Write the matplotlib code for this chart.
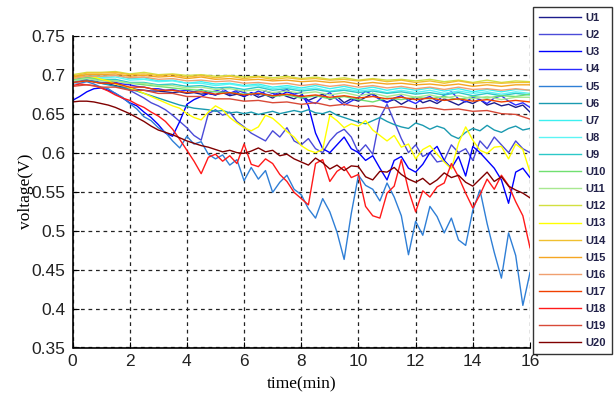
import numpy as np
import matplotlib
matplotlib.use("Agg")
import matplotlib.pyplot as plt

# time grids (minutes)
t_fine = np.arange(65) * 0.25
t_coarse = np.arange(33) * 0.5

labels = [f"U{i}" for i in range(1, 21)]
colors = ['#1c1c8c', '#4b4bd8', '#0000ff', '#2a2aff', '#2f7fd6',
          '#1a9ab0', '#3cf0f0', '#5cf5f5', '#2cc8c8', '#70e070',
          '#a8e890', '#d2e040', '#ffff00', '#f0c030', '#f5a623',
          '#f0a070', '#f04000', '#ff1a1a', '#d84a38', '#800000']

U1 = [0.693, 0.694, 0.693, 0.691, 0.689, 0.688, 0.686, 0.684, 0.683, 0.681, 0.680, 0.679,
      0.679, 0.678, 0.677, 0.678, 0.676, 0.677, 0.675, 0.676, 0.674, 0.677, 0.673, 0.675,
      0.672, 0.676, 0.671, 0.674, 0.670, 0.676, 0.672, 0.669, 0.674, 0.667, 0.671, 0.675,
      0.668, 0.672, 0.664, 0.669, 0.666, 0.671, 0.676, 0.669, 0.665, 0.668, 0.662, 0.667,
      0.671, 0.664, 0.667, 0.663, 0.669, 0.665, 0.661, 0.666, 0.663, 0.668, 0.661, 0.664,
      0.660, 0.662, 0.658, 0.661, 0.652]
U2 = [0.690, 0.692, 0.693, 0.692, 0.690, 0.690, 0.689, 0.685, 0.680, 0.675, 0.670, 0.664,
      0.660, 0.655, 0.648, 0.640, 0.632, 0.622, 0.616, 0.650, 0.655, 0.648, 0.652, 0.640,
      0.633, 0.625, 0.620, 0.615, 0.628, 0.620, 0.632, 0.615, 0.610, 0.618, 0.605, 0.600,
      0.615, 0.625, 0.630, 0.620, 0.600, 0.610, 0.598, 0.645, 0.662, 0.640, 0.618, 0.600,
      0.610, 0.595, 0.600, 0.588, 0.590, 0.610, 0.600, 0.605, 0.590, 0.615, 0.605, 0.620,
      0.610, 0.600, 0.615, 0.605, 0.600]
U3 = [0.667, 0.672, 0.678, 0.682, 0.683, 0.680, 0.676, 0.670, 0.664, 0.660, 0.652, 0.645,
      0.636, 0.625, 0.621, 0.640, 0.662, 0.668, 0.672, 0.676, 0.674, 0.679, 0.675, 0.678,
      0.672, 0.677, 0.674, 0.679, 0.676, 0.673, 0.678, 0.675, 0.677, 0.660, 0.625, 0.605,
      0.600, 0.610, 0.620, 0.605, 0.600, 0.590, 0.596, 0.580, 0.565, 0.590, 0.595, 0.580,
      0.575, 0.585, 0.600, 0.608, 0.590, 0.580, 0.595, 0.570, 0.608, 0.600, 0.590, 0.580,
      0.565, 0.535, 0.575, 0.580, 0.568]
U4 = [0.696, 0.698, 0.697, 0.695, 0.693, 0.692, 0.690, 0.688, 0.687, 0.685, 0.684, 0.682,
      0.682, 0.680, 0.681, 0.679, 0.680, 0.678, 0.681, 0.677, 0.679, 0.682, 0.676, 0.680,
      0.677, 0.674, 0.679, 0.675, 0.673, 0.678, 0.681, 0.674, 0.671, 0.666, 0.663, 0.672,
      0.677, 0.668, 0.661, 0.666, 0.671, 0.679, 0.674, 0.668, 0.664, 0.670, 0.673, 0.667,
      0.663, 0.669, 0.672, 0.666, 0.674, 0.678, 0.669, 0.665, 0.671, 0.668, 0.663, 0.670,
      0.673, 0.666, 0.661, 0.664, 0.658]
U5 = [0.690, 0.689, 0.691, 0.688, 0.684, 0.682, 0.676, 0.671, 0.663, 0.656, 0.646, 0.641,
      0.632, 0.626, 0.615, 0.606, 0.621, 0.611, 0.614, 0.598, 0.592, 0.597, 0.584, 0.591,
      0.564, 0.581, 0.566, 0.577, 0.549, 0.562, 0.571, 0.553, 0.546, 0.528, 0.516, 0.541,
      0.524, 0.498, 0.463, 0.522, 0.571, 0.558, 0.553, 0.538, 0.561, 0.543, 0.519, 0.469,
      0.512, 0.494, 0.531, 0.518, 0.497, 0.516, 0.488, 0.481, 0.526, 0.552, 0.509, 0.472,
      0.439, 0.497, 0.468, 0.404, 0.446]
U6 = [0.692, 0.694, 0.693, 0.691, 0.689, 0.687, 0.685, 0.683, 0.681, 0.679, 0.676, 0.673,
      0.670, 0.667, 0.664, 0.661, 0.659, 0.657, 0.656, 0.655, 0.653, 0.654, 0.651, 0.652,
      0.650, 0.652, 0.649, 0.651, 0.653, 0.650, 0.652, 0.654, 0.652, 0.655, 0.651, 0.650,
      0.653, 0.648, 0.645, 0.642, 0.639, 0.637, 0.641, 0.645, 0.640, 0.636, 0.633, 0.631,
      0.638, 0.635, 0.630, 0.634, 0.631, 0.622, 0.618, 0.626, 0.631, 0.628, 0.635, 0.629,
      0.626, 0.631, 0.634, 0.629, 0.631]
U7 = [0.697, 0.700, 0.698, 0.699, 0.695, 0.696, 0.692, 0.693, 0.689, 0.691, 0.688, 0.689,
      0.686, 0.688, 0.684, 0.686, 0.683, 0.686, 0.682, 0.685, 0.681, 0.684, 0.680, 0.683,
      0.680, 0.683, 0.679, 0.682, 0.678, 0.681, 0.678, 0.681, 0.680]
U8 = [0.695, 0.698, 0.696, 0.697, 0.693, 0.694, 0.691, 0.692, 0.689, 0.689, 0.686, 0.688,
      0.685, 0.686, 0.682, 0.684, 0.681, 0.683, 0.679, 0.682, 0.679, 0.681, 0.677, 0.680,
      0.677, 0.680, 0.676, 0.679, 0.676, 0.678, 0.675, 0.678, 0.676]
U9 = [0.694, 0.696, 0.694, 0.694, 0.690, 0.690, 0.687, 0.688, 0.685, 0.686, 0.683, 0.684,
      0.681, 0.684, 0.680, 0.682, 0.679, 0.681, 0.678, 0.680, 0.677, 0.679, 0.676, 0.678,
      0.675, 0.677, 0.674, 0.677, 0.673, 0.676, 0.673, 0.676, 0.674]
U10 = [0.693, 0.696, 0.694, 0.692, 0.689, 0.687, 0.685, 0.683, 0.681, 0.680, 0.678, 0.677,
       0.675, 0.676, 0.672, 0.674, 0.670, 0.673, 0.669, 0.672, 0.668, 0.665, 0.670, 0.668,
       0.671, 0.669, 0.672, 0.668, 0.672, 0.670, 0.673, 0.672, 0.675]
U11 = [0.692, 0.695, 0.692, 0.692, 0.689, 0.689, 0.686, 0.686, 0.683, 0.684, 0.681, 0.682,
       0.679, 0.681, 0.677, 0.679, 0.676, 0.678, 0.674, 0.677, 0.673, 0.676, 0.672, 0.675,
       0.671, 0.674, 0.670, 0.673, 0.669, 0.672, 0.668, 0.671, 0.671]
U12 = [0.700, 0.703, 0.703, 0.704, 0.701, 0.703, 0.700, 0.701, 0.699, 0.700, 0.698, 0.699,
       0.697, 0.698, 0.696, 0.698, 0.695, 0.697, 0.694, 0.696, 0.693, 0.695, 0.693, 0.694,
       0.692, 0.694, 0.691, 0.693, 0.690, 0.693, 0.690, 0.692, 0.691]
U13 = [0.695, 0.697, 0.698, 0.697, 0.694, 0.692, 0.688, 0.686, 0.683, 0.680, 0.676, 0.672,
       0.668, 0.664, 0.660, 0.657, 0.650, 0.645, 0.642, 0.652, 0.660, 0.655, 0.645, 0.638,
       0.632, 0.628, 0.633, 0.648, 0.644, 0.636, 0.627, 0.620, 0.609, 0.603, 0.600, 0.604,
       0.648, 0.641, 0.632, 0.637, 0.634, 0.641, 0.629, 0.622, 0.615, 0.622, 0.607, 0.611,
       0.592, 0.604, 0.609, 0.598, 0.588, 0.579, 0.612, 0.633, 0.616, 0.603, 0.599, 0.607,
       0.608, 0.592, 0.611, 0.604, 0.575]
U14 = [0.698, 0.702, 0.702, 0.703, 0.700, 0.701, 0.699, 0.700, 0.697, 0.699, 0.696, 0.698,
       0.695, 0.697, 0.694, 0.696, 0.694, 0.695, 0.693, 0.694, 0.692, 0.694, 0.691, 0.693,
       0.690, 0.692, 0.689, 0.692, 0.689, 0.690, 0.689, 0.690, 0.690]
U15 = [0.697, 0.700, 0.700, 0.701, 0.698, 0.699, 0.697, 0.698, 0.695, 0.697, 0.694, 0.695,
       0.693, 0.694, 0.692, 0.693, 0.691, 0.692, 0.690, 0.691, 0.688, 0.690, 0.688, 0.689,
       0.687, 0.688, 0.686, 0.688, 0.685, 0.687, 0.685, 0.687, 0.687]
U16 = [0.695, 0.698, 0.698, 0.699, 0.696, 0.697, 0.694, 0.695, 0.692, 0.693, 0.691, 0.692,
       0.689, 0.690, 0.688, 0.689, 0.686, 0.688, 0.685, 0.687, 0.684, 0.686, 0.683, 0.685,
       0.682, 0.684, 0.681, 0.684, 0.681, 0.682, 0.680, 0.682, 0.680]
U17 = [0.690, 0.692, 0.689, 0.689, 0.684, 0.684, 0.680, 0.680, 0.677, 0.678, 0.675, 0.677,
       0.674, 0.676, 0.673, 0.675, 0.672, 0.674, 0.671, 0.673, 0.670, 0.672, 0.669, 0.671,
       0.668, 0.670, 0.667, 0.669, 0.666, 0.668, 0.665, 0.667, 0.665]
U18 = [0.686, 0.688, 0.687, 0.686, 0.683, 0.679, 0.674, 0.670, 0.667, 0.662, 0.658, 0.652,
       0.647, 0.640, 0.630, 0.617, 0.603, 0.589, 0.573, 0.594, 0.598, 0.589, 0.596, 0.586,
       0.611, 0.585, 0.582, 0.592, 0.586, 0.572, 0.563, 0.549, 0.541, 0.533, 0.586, 0.591,
       0.563, 0.576, 0.582, 0.568, 0.572, 0.531, 0.519, 0.516, 0.548, 0.557, 0.591, 0.552,
       0.524, 0.551, 0.543, 0.556, 0.561, 0.586, 0.569, 0.548, 0.529, 0.546, 0.566, 0.553,
       0.571, 0.558, 0.537, 0.519, 0.478]
U19 = [0.685, 0.687, 0.684, 0.684, 0.680, 0.680, 0.676, 0.676, 0.672, 0.672, 0.669, 0.669,
       0.666, 0.667, 0.664, 0.665, 0.662, 0.664, 0.660, 0.662, 0.659, 0.660, 0.657, 0.659,
       0.656, 0.658, 0.655, 0.656, 0.653, 0.654, 0.650, 0.649, 0.643]
U20 = [0.665, 0.666, 0.666, 0.665, 0.663, 0.661, 0.658, 0.654, 0.650, 0.645, 0.640, 0.634,
       0.629, 0.626, 0.623, 0.619, 0.615, 0.612, 0.609, 0.607, 0.604, 0.601, 0.603, 0.600,
       0.599, 0.602, 0.606, 0.601, 0.603, 0.596, 0.598, 0.592, 0.588, 0.584, 0.593, 0.587,
       0.579, 0.584, 0.577, 0.583, 0.582, 0.569, 0.565, 0.576, 0.575, 0.581, 0.572, 0.566,
       0.562, 0.567, 0.559, 0.565, 0.574, 0.568, 0.571, 0.562, 0.557, 0.566, 0.575, 0.563,
       0.569, 0.557, 0.552, 0.548, 0.542]

series = [U1, U2, U3, U4, U5, U6, U7, U8, U9, U10,
          U11, U12, U13, U14, U15, U16, U17, U18, U19, U20]

xticks = [0, 2, 4, 6, 8, 10, 12, 14, 16]
yticks = [0.35, 0.4, 0.45, 0.5, 0.55, 0.6, 0.65, 0.7, 0.75]
ytick_labels = ['0.35', '0.4', '0.45', '0.5', '0.55', '0.6', '0.65', '0.7', '0.75']

fig = plt.figure(figsize=(6.16, 3.94), dpi=100)
ax = fig.add_axes([72.5 / 616, 1 - 347.5 / 394, (530 - 72.5) / 616, (347.5 - 35.7) / 394])

handles = []
for vals, c, lab in zip(series, colors, labels):
    tt = t_fine if len(vals) == len(t_fine) else t_coarse
    h, = ax.plot(tt, vals, color=c, lw=1.0, label=lab)
    handles.append(h)

ax.set_xlim(0, 16)
ax.set_ylim(0.35, 0.75)
ax.set_xticks(xticks)
ax.set_xticklabels([str(x) for x in xticks])
ax.set_yticks(yticks)
ax.set_yticklabels(ytick_labels)
ax.tick_params(direction='in', length=4, width=0.8, labelsize=12.5, pad=5,
               labelcolor='#222222')
for lab in ax.get_xticklabels() + ax.get_yticklabels():
    lab.set_family('Liberation Sans')

ax.grid(True, color='#222222', linestyle=(0, (3, 3)), linewidth=0.9)
ax.set_axisbelow(True)
for s in ['top', 'right']:
    ax.spines[s].set_visible(False)
for s in ['left', 'bottom']:
    ax.spines[s].set_linewidth(1.2)
    ax.spines[s].set_color('black')

ax.set_xlabel('time(min)', family='Liberation Serif', fontsize=12.5, labelpad=5)
ax.set_ylabel('voltage(V)', family='Liberation Serif', fontsize=12.5, labelpad=-2)

leg = fig.legend(handles, labels, loc='upper left',
                 bbox_to_anchor=(533 / 616, 1 - 7 / 394),
                 prop={'family': 'Liberation Sans', 'size': 8, 'weight': 'bold'},
                 labelspacing=0.64, handlelength=3.8, handletextpad=0.4,
                 borderpad=0.55, borderaxespad=0, fancybox=False, frameon=True)
leg.get_frame().set_edgecolor('black')
leg.get_frame().set_linewidth(1.0)
for txt in leg.get_texts():
    txt.set_color('#22224a')

fig.savefig('out.png', dpi=100)
